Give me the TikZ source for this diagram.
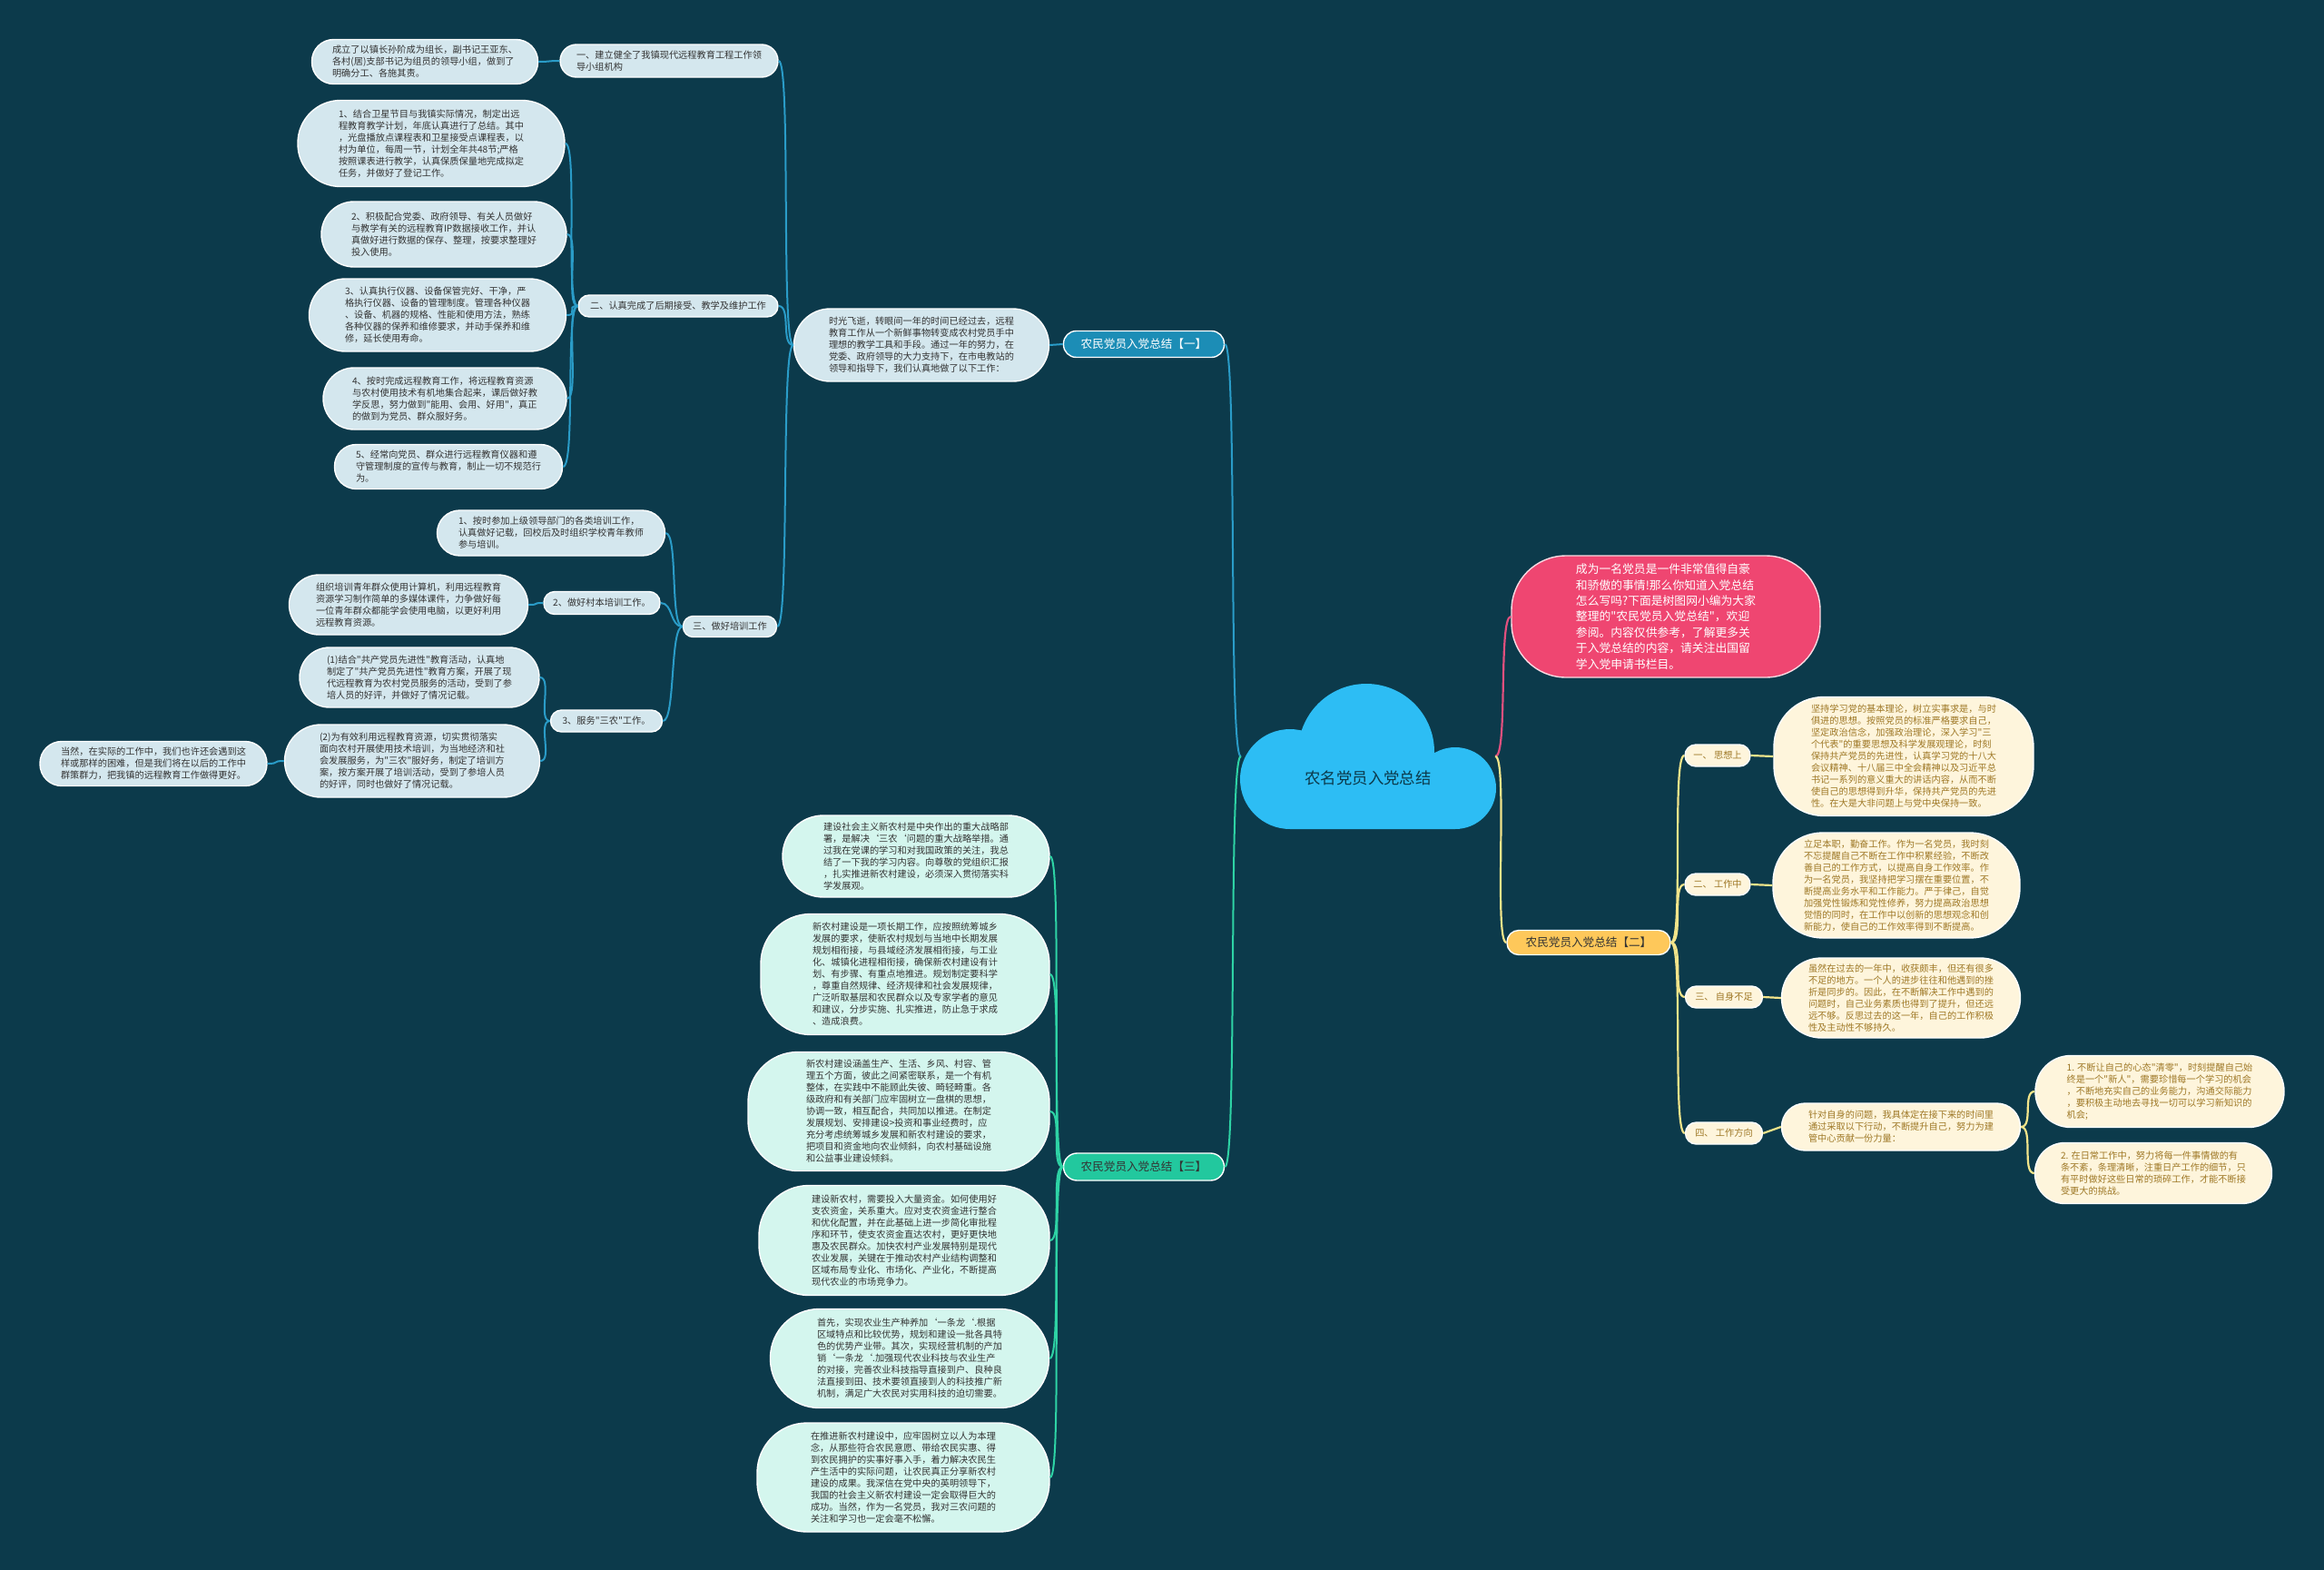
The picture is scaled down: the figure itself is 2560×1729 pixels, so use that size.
\documentclass[tikz,border=0pt]{standalone}
\usepackage{fontspec}
\newfontfamily\cjkfont{Noto Sans CJK SC}
\usepackage{xcolor}
\definecolor{BgTeal}{HTML}{0C3A4B}
\definecolor{CloudBlue}{HTML}{2DBDF4}
\definecolor{BlueFill}{HTML}{D4E7EE}
\definecolor{BlueLine}{HTML}{2A9CC8}
\definecolor{BlueTopic}{HTML}{1C8DB6}
\definecolor{GreenFill}{HTML}{D4F6EE}
\definecolor{GreenLine}{HTML}{2ED3A5}
\definecolor{GreenTopic}{HTML}{22C89E}
\definecolor{CreamFill}{HTML}{FEF5DC}
\definecolor{CreamText}{HTML}{9E7826}
\definecolor{YellowLine}{HTML}{F2E48A}
\definecolor{YellowTopic}{HTML}{FEC85A}
\definecolor{PinkFill}{HTML}{EF4671}
\definecolor{PinkLine}{HTML}{E0507E}
\definecolor{TextDark}{HTML}{333333}
\usetikzlibrary{positioning}

\begin{document}
\begin{tikzpicture}[x=1pt, y=-1pt,
  every node/.style={font=\cjkfont},
  sz/.style n args={3}{minimum width=#1pt, minimum height=#2pt,
                       rounded corners=#3pt},
  box/.style={draw=white, line width=1.4pt, align=left, inner sep=0pt,
              font=\cjkfont\fontsize{10.2}{13}\selectfont},
  bluebox/.style={box, fill=BlueFill, text=TextDark},
  greenbox/.style={box, fill=GreenFill, text=TextDark},
  creambox/.style={box, fill=CreamFill, text=CreamText},
  pinkbox/.style={box, fill=PinkFill, text=white, draw=white!80!PinkFill,
                  font=\cjkfont\fontsize{12.8}{17.4}\selectfont},
  topic/.style={box, align=center, font=\cjkfont\fontsize{12.6}{14}\selectfont},
  bluelink/.style={draw=BlueLine, line width=2pt},
  greenlink/.style={draw=GreenLine, line width=2pt},
  yellowlink/.style={draw=YellowLine, line width=2.2pt},
  pinklink/.style={draw=PinkLine, line width=2.2pt},
  lft/.style={out=180, in=0, distance=14pt},
  rgt/.style={out=0, in=180, distance=14pt}
]
\fill[BgTeal] (0,0) rectangle (2560,1729);
\useasboundingbox (0,0) rectangle (2560,1729);

% centre cloud
\fill[CloudBlue] (1421,858) circle[radius=55pt] (1505,828) circle[radius=75pt]
  (1603,868) circle[radius=45pt] (1421,858) rectangle (1603,913);
\node[inner sep=0pt, minimum width=280pt, minimum height=160pt] (root) at (1507,833) {};
\node[text=BgTeal, font=\cjkfont\fontsize{17.4}{20}\selectfont] (roottxt) at (1507,857) {农名党员入党总结};

% branch one
\node[topic, fill=BlueTopic, text=white, sz={177}{29}{14}] (r1) at (1260,379) {农民党员入党总结【一】};
\node[bluebox, sz={281}{80}{40}] (c) at (1015,380)
  {时光飞逝，转眼间一年的时间已经过去，远程\\教育工作从一个新鲜事物转变成农村党员手中\\理想的教学工具和手段。通过一年的努力，在\\党委、政府领导的大力支持下，在市电教站的\\领导和指导下，我们认真地做了以下工作：};

\node[bluebox, sz={240}{36}{18}] (a) at (737,67)
  {一、建立健全了我镇现代远程教育工程工作领\\导小组机构};
\node[bluebox, sz={249}{49}{24}] (a1) at (468,68)
  {成立了以镇长孙阶成为组长，副书记王亚东、\\各村(居)支部书记为组员的领导小组，做到了\\明确分工、各施其责。};

\node[bluebox, sz={220}{24}{12}] (b) at (747,337) {二、认真完成了后期接受、教学及维护工作};
\node[bluebox, sz={294}{95}{47}] (b1) at (475,158)
  {1、结合卫星节目与我镇实际情况，制定出远\\程教育教学计划，年底认真进行了总结。其中\\，光盘播放点课程表和卫星接受点课程表，以\\村为单位，每周一节，计划全年共48节;严格\\按照课表进行教学，认真保质保量地完成拟定\\任务，并做好了登记工作。};
\node[bluebox, sz={270}{72}{36}] (b2) at (489,258)
  {2、积极配合党委、政府领导、有关人员做好\\与教学有关的远程教育IP数据接收工作，并认\\真做好进行数据的保存、整理，按要求整理好\\投入使用。};
\node[bluebox, sz={283}{80}{40}] (b3) at (482,347)
  {3、认真执行仪器、设备保管完好、干净，严\\格执行仪器、设备的管理制度。管理各种仪器\\、设备、机器的规格、性能和使用方法，熟练\\各种仪器的保养和维修要求，并动手保养和维\\修，延长使用寿命。};
\node[bluebox, sz={268}{68}{34}] (b4) at (490,439)
  {4、按时完成远程教育工作，将远程教育资源\\与农村使用技术有机地集合起来，课后做好教\\学反思，努力做到"能用、会用、好用"，真正\\的做到为党员、群众服好务。};
\node[bluebox, sz={251}{49}{24}] (b5) at (494,514)
  {5、经常向党员、群众进行远程教育仪器和遵\\守管理制度的宣传与教育，制止一切不规范行\\为。};

\node[bluebox, sz={103}{23}{11}] (d) at (804,690) {三、做好培训工作};
\node[bluebox, sz={251}{50}{25}] (d1) at (607,587)
  {1、按时参加上级领导部门的各类培训工作，\\认真做好记载，回校后及时组织学校青年教师\\参与培训。};
\node[bluebox, sz={128}{25}{12}] (d2) at (663,664) {2、做好村本培训工作。};
\node[bluebox, sz={263}{66}{33}] (d2a) at (450,666)
  {组织培训青年群众使用计算机，利用远程教育\\资源学习制作简单的多媒体课件，力争做好每\\一位青年群众都能学会使用电脑，以更好利用\\远程教育资源。};
\node[bluebox, sz={123}{24}{12}] (d3) at (668,794) {3、服务"三农"工作。};
\node[bluebox, sz={264}{66}{33}] (d3a) at (462,746)
  {(1)结合"共产党员先进性"教育活动，认真地\\制定了"共产党员先进性"教育方案，开展了现\\代远程教育为农村党员服务的活动，受到了参\\培人员的好评，并做好了情况记载。};
\node[bluebox, sz={281}{80}{40}] (d3b) at (454,838)
  {(2)为有效利用远程教育资源，切实贯彻落实\\面向农村开展使用技术培训，为当地经济和社\\会发展服务，为"三农"服好务，制定了培训方\\案，按方案开展了培训活动，受到了参培人员\\的好评，同时也做好了情况记载。};
\node[bluebox, sz={250}{49}{24}] (d3b1) at (169,841)
  {当然，在实际的工作中，我们也许还会遇到这\\样或那样的困难，但是我们将在以后的工作中\\群策群力，把我镇的远程教育工作做得更好。};

% branch three
\node[topic, fill=GreenTopic, text=TextDark, sz={177}{30}{15}] (g) at (1260,1285) {农民党员入党总结【三】};
\node[greenbox, sz={294}{90}{45}] (g1) at (1009,943)
  {建设社会主义新农村是中央作出的重大战略部\\署，是解决‘三农‘问题的重大战略举措。通\\过我在党课的学习和对我国政策的关注，我总\\结了一下我的学习内容。向尊敬的党组织汇报\\，扎实推进新农村建设，必须深入贯彻落实科\\学发展观。};
\node[greenbox, sz={318}{133}{55}] (g2) at (997,1073)
  {新农村建设是一项长期工作，应按照统筹城乡\\发展的要求，使新农村规划与当地中长期发展\\规划相衔接，与县域经济发展相衔接，与工业\\化、城镇化进程相衔接，确保新农村建设有计\\划、有步骤、有重点地推进。规划制定要科学\\，尊重自然规律、经济规律和社会发展规律，\\广泛听取基层和农民群众以及专家学者的意见\\和建议，分步实施、扎实推进，防止急于求成\\、造成浪费。};
\node[greenbox, sz={332}{131}{55}] (g3) at (990,1224)
  {新农村建设涵盖生产、生活、乡风、村容、管\\理五个方面，彼此之间紧密联系，是一个有机\\整体，在实践中不能顾此失彼、畸轻畸重。各\\级政府和有关部门应牢固树立一盘棋的思想，\\协调一致，相互配合，共同加以推进。在制定\\发展规划、安排建设>投资和事业经费时，应\\充分考虑统筹城乡发展和新农村建设的要求，\\把项目和资金地向农业倾斜，向农村基础设施\\和公益事业建设倾斜。};
\node[greenbox, sz={320}{121}{55}] (g4) at (996,1366)
  {建设新农村，需要投入大量资金。如何使用好\\支农资金，关系重大。应对支农资金进行整合\\和优化配置，并在此基础上进一步简化审批程\\序和环节，使支农资金直达农村，更好更快地\\惠及农民群众。加快农村产业发展特别是现代\\农业发展，关键在于推动农村产业结构调整和\\区域布局专业化、市场化、产业化，不断提高\\现代农业的市场竞争力。};
\node[greenbox, sz={307}{109}{54}] (g5) at (1002,1496)
  {首先，实现农业生产种养加‘一条龙‘.根据\\区域特点和比较优势，规划和建设一批各具特\\色的优势产业带。其次，实现经营机制的产加\\销‘一条龙‘.加强现代农业科技与农业生产\\的对接，完善农业科技指导直接到户、良种良\\法直接到田、技术要领直接到人的科技推广新\\机制，满足广大农民对实用科技的迫切需要。};
\node[greenbox, sz={322}{120}{55}] (g6) at (995,1627)
  {在推进新农村建设中，应牢固树立以人为本理\\念，从那些符合农民意愿、带给农民实惠、得\\到农民拥护的实事好事入手，着力解决农民生\\产生活中的实际问题，让农民真正分享新农村\\建设的成果。我深信在党中央的英明领导下，\\我国的社会主义新农村建设一定会取得巨大的\\成功。当然，作为一名党员，我对三农问题的\\关注和学习也一定会毫不松懈。};

% intro
\node[pinkbox, sz={340}{134}{60}] (p) at (1835,679)
  {成为一名党员是一件非常值得自豪\\和骄傲的事情!那么你知道入党总结\\怎么写吗?下面是树图网小编为大家\\整理的"农民党员入党总结"，欢迎\\参阅。内容仅供参考，了解更多关\\于入党总结的内容，请关注出国留\\学入党申请书栏目。};

% branch two
\node[topic, fill=YellowTopic, text=TextDark, sz={180}{27}{13}] (y) at (1750,1038) {农民党员入党总结【二】};
\node[creambox, sz={72}{24}{12}] (y1) at (1892,832) {一、 思想上};
\node[creambox, sz={286}{131}{55}] (y1a) at (2097,833)
  {坚持学习党的基本理论，树立实事求是，与时\\俱进的思想。按照党员的标准严格要求自己，\\坚定政治信念，加强政治理论，深入学习"三\\个代表"的重要思想及科学发展观理论，时刻\\保持共产党员的先进性，认真学习党的十八大\\会议精神、十八届三中全会精神以及习近平总\\书记一系列的意义重大的讲话内容，从而不断\\使自己的思想得到升华，保持共产党员的先进\\性。在大是大非问题上与党中央保持一致。};
\node[creambox, sz={72}{24}{12}] (y2) at (1892,974) {二、 工作中};
\node[creambox, sz={272}{116}{55}] (y2a) at (2089,975)
  {立足本职，勤奋工作。作为一名党员，我时刻\\不忘提醒自己不断在工作中积累经验，不断改\\善自己的工作方式，以提高自身工作效率。作\\为一名党员，我坚持把学习摆在重要位置，不\\断提高业务水平和工作能力。严于律己，自觉\\加强党性锻炼和党性修养，努力提高政治思想\\觉悟的同时，在工作中以创新的思想观念和创\\新能力，使自己的工作效率得到不断提高。};
\node[creambox, sz={85}{24}{12}] (y3) at (1899,1098) {三、 自身不足};
\node[creambox, sz={263}{88}{44}] (y3a) at (2094,1099)
  {虽然在过去的一年中，收获颇丰，但还有很多\\不足的地方。一个人的进步往往和他遇到的挫\\折是同步的。因此，在不断解决工作中遇到的\\问题时，自己业务素质也得到了提升，但还远\\远不够。反思过去的这一年，自己的工作积极\\性及主动性不够持久。};
\node[creambox, sz={85}{24}{12}] (y4) at (1899,1248) {四、 工作方向};
\node[creambox, sz={263}{52}{26}] (y4a) at (2094,1241)
  {针对自身的问题，我具体定在接下来的时间里\\通过采取以下行动，不断提升自己，努力为建\\管中心贡献一份力量：};
\node[creambox, sz={274}{79}{39}] (y4a1) at (2379,1202)
  {1. 不断让自己的心态"清零"，时刻提醒自己始\\终是一个"新人"，需要珍惜每一个学习的机会\\，不断地充实自己的业务能力，沟通交际能力\\，要积极主动地去寻找一切可以学习新知识的\\机会;};
\node[creambox, sz={261}{67}{33}] (y4a2) at (2372,1292)
  {2. 在日常工作中，努力将每一件事情做的有\\条不紊，条理清晰，注重日产工作的细节，只\\有平时做好这些日常的琐碎工作，才能不断接\\受更大的挑战。};

% connectors
\draw[bluelink] (root.west) to[lft] (r1.east);
\draw[bluelink] (r1.west) -- (c.east);
\draw[bluelink] (c.west) to[lft] (a.east);
\draw[bluelink] (c.west) to[lft] (b.east);
\draw[bluelink] (c.west) to[lft] (d.east);
\draw[bluelink] (a.west) to[lft] (a1.east);
\foreach \k in {b1,b2,b3,b4,b5}
  \draw[bluelink] (b.west) to[lft] (\k.east);
\foreach \k in {d1,d2,d3}
  \draw[bluelink] (d.west) to[lft] (\k.east);
\draw[bluelink] (d2.west) to[lft] (d2a.east);
\draw[bluelink] (d3.west) to[lft] (d3a.east);
\draw[bluelink] (d3.west) to[lft] (d3b.east);
\draw[bluelink] (d3b.west) to[lft] (d3b1.east);

\draw[greenlink] (root.west) to[lft] (g.east);
\foreach \k in {g1,g2,g3,g4,g5,g6}
  \draw[greenlink] (g.west) to[lft] (\k.east);

\draw[pinklink] (root.east) to[rgt] (p.west);
\draw[yellowlink] (root.east) to[rgt] (y.west);
\foreach \k in {y1,y2,y3,y4}
  \draw[yellowlink] (y.east) to[rgt] (\k.west);
\draw[yellowlink] (y1.east) -- (y1a.west);
\draw[yellowlink] (y2.east) -- (y2a.west);
\draw[yellowlink] (y3.east) -- (y3a.west);
\draw[yellowlink] (y4.east) -- (y4a.west);
\draw[yellowlink] (y4a.east) to[rgt] (y4a1.west);
\draw[yellowlink] (y4a.east) to[rgt] (y4a2.west);
\end{tikzpicture}
\end{document}
